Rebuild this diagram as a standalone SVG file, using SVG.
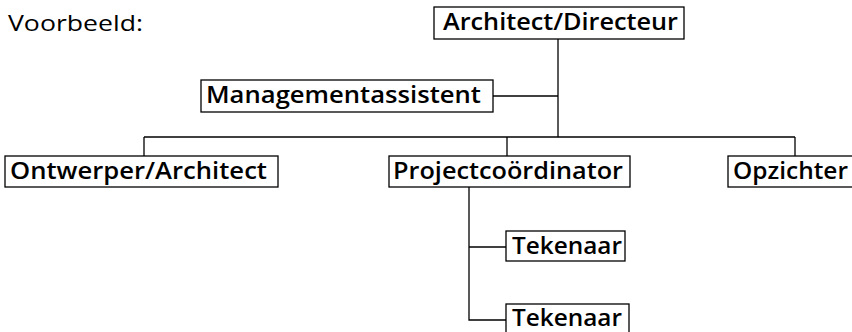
<svg xmlns="http://www.w3.org/2000/svg" width="852" height="332" viewBox="0 0 852 332">
<style>
.box{fill:#fff;stroke:#000;stroke-width:1.3}
.lbl{font-family:"Open Sans","DejaVu Sans",sans-serif;font-weight:600;font-size:24px;fill:#000}
.plain{font-family:"Open Sans","DejaVu Sans",sans-serif;font-size:22px;fill:#000}
.conn{stroke:#000;stroke-width:1.3;fill:none}
</style>
<rect width="852" height="332" fill="#fff"/>
<text class="plain" x="8" y="31" textLength="135" lengthAdjust="spacingAndGlyphs">Voorbeeld:</text>
<g id="connectors">
<path class="conn" d="M558,39 V137"/>
<path class="conn" d="M493,96 H558"/>
<path class="conn" d="M144,137 H795"/>
<path class="conn" d="M144,137 V156"/>
<path class="conn" d="M507,137 V156"/>
<path class="conn" d="M795,137 V156"/>
<path class="conn" d="M469,187 V320 H506"/>
<path class="conn" d="M469,247 H506"/>
</g>
<g id="directeur">
<rect class="box" x="434" y="7" width="250" height="32"/>
<text class="lbl" x="443" y="30" textLength="235" lengthAdjust="spacingAndGlyphs">Architect/Directeur</text>
</g>
<g id="assistent">
<rect class="box" x="201" y="80" width="292" height="32"/>
<text class="lbl" x="206" y="103" textLength="275" lengthAdjust="spacingAndGlyphs">Managementassistent</text>
</g>
<g id="ontwerper">
<rect class="box" x="5" y="156" width="273" height="31"/>
<text class="lbl" x="10" y="179" textLength="257" lengthAdjust="spacingAndGlyphs">Ontwerper/Architect</text>
</g>
<g id="projectcoordinator">
<rect class="box" x="389" y="156" width="241" height="31"/>
<text class="lbl" x="393" y="179" textLength="230" lengthAdjust="spacingAndGlyphs">Projectcoördinator</text>
</g>
<g id="opzichter">
<rect class="box" x="728" y="156" width="130" height="31"/>
<text class="lbl" x="733" y="179" textLength="115" lengthAdjust="spacingAndGlyphs">Opzichter</text>
</g>
<g id="tekenaar1">
<rect class="box" x="506" y="231" width="119" height="30"/>
<text class="lbl" x="512" y="254" textLength="110" lengthAdjust="spacingAndGlyphs">Tekenaar</text>
</g>
<g id="tekenaar2">
<rect class="box" x="506" y="304" width="123" height="34"/>
<text class="lbl" x="512" y="326" textLength="110" lengthAdjust="spacingAndGlyphs">Tekenaar</text>
</g>
</svg>
